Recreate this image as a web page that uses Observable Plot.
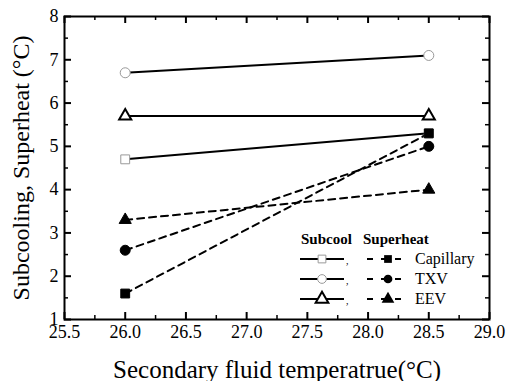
<!DOCTYPE html>
<html><head><meta charset="utf-8">
<script src="https://cdn.jsdelivr.net/npm/d3@7"></script>
<script src="https://cdn.jsdelivr.net/npm/@observablehq/plot@0.6"></script>
<style>
body{margin:0;background:#fff;}
#wrap{position:relative;width:506px;height:381px;}
#legend{position:absolute;left:0;top:0;}
svg, svg text{font-family:"Liberation Serif","DejaVu Serif",serif !important;}
</style>
</head><body><div id="wrap"></div>
<script>
const temps = [26.0, 28.5];
const subcoolCapillary = [4.7, 5.3];
const subcoolTXV = [6.7, 7.1];
const subcoolEEV = [5.7, 5.7];
const superCapillary = [1.6, 5.3];
const superTXV = [2.6, 5.0];
const superEEV = [3.3, 4.0];
const xTicks = [25.5, 26.0, 26.5, 27.0, 27.5, 28.0, 28.5, 29.0];
const xMinor = [25.75, 26.25, 26.75, 27.25, 27.75, 28.25, 28.75];
const yTicks = [1, 2, 3, 4, 5, 6, 7, 8];
const yMinor = [1.5, 2.5, 3.5, 4.5, 5.5, 6.5, 7.5];
const legendNames = ["Capillary", "TXV", "EEV"];
const xTitle = "Secondary fluid temperatrue(\u00B0C)";
const yTitle = "Subcooling, Superheat (\u00B0C)";

const series = [
  {kind: "Subcool", name: "Capillary", vals: subcoolCapillary, symbol: "square", fill: "white", mstroke: "#999"},
  {kind: "Subcool", name: "TXV", vals: subcoolTXV, symbol: "circle", fill: "white", mstroke: "#999"},
  {kind: "Subcool", name: "EEV", vals: subcoolEEV, symbol: "triangle", fill: "white", mstroke: "black"},
  {kind: "Superheat", name: "Capillary", vals: superCapillary, symbol: "square", fill: "black", mstroke: "black"},
  {kind: "Superheat", name: "TXV", vals: superTXV, symbol: "circle", fill: "black", mstroke: "black"},
  {kind: "Superheat", name: "EEV", vals: superEEV, symbol: "triangle", fill: "black", mstroke: "black"}
];
const rows = series.flatMap(s => temps.map((t, i) => ({x: t, y: s.vals[i], s})));

const W = 506, H = 381, mL = 64, mR = 17, mT = 16, mB = 62;
const xDom = [25.5, 29.0], yDom = [1, 8];
const pxY = (H - mT - mB) / (yDom[1] - yDom[0]);
const pxX = (W - mL - mR) / (xDom[1] - xDom[0]);
const majL = 7, minL = 4;

const marks = [
  Plot.frame({stroke: "black", strokeWidth: 2}),
  Plot.ruleX(xTicks, {x: d => d, y1: yDom[0], y2: yDom[0] + majL / pxY, strokeWidth: 2}),
  Plot.ruleX(xMinor, {x: d => d, y1: yDom[0], y2: yDom[0] + minL / pxY, strokeWidth: 1.5}),
  Plot.ruleX(xTicks, {x: d => d, y1: yDom[1], y2: yDom[1] - majL / pxY, strokeWidth: 2}),
  Plot.ruleX(xMinor, {x: d => d, y1: yDom[1], y2: yDom[1] - minL / pxY, strokeWidth: 1.5}),
  Plot.ruleY(yTicks, {y: d => d, x1: xDom[0], x2: xDom[0] + majL / pxX, strokeWidth: 2}),
  Plot.ruleY(yMinor, {y: d => d, x1: xDom[0], x2: xDom[0] + minL / pxX, strokeWidth: 1.5}),
  Plot.ruleY(yTicks, {y: d => d, x1: xDom[1], x2: xDom[1] - majL / pxX, strokeWidth: 2}),
  Plot.ruleY(yMinor, {y: d => d, x1: xDom[1], x2: xDom[1] - minL / pxX, strokeWidth: 1.5}),
];
for (const s of series) {
  const d = rows.filter(r => r.s === s);
  marks.push(Plot.line(d, {x: "x", y: "y", stroke: "black", strokeWidth: 2,
    strokeDasharray: s.kind === "Superheat" ? "7,5" : null}));
}
for (const s of series) {
  const d = rows.filter(r => r.s === s);
  marks.push(Plot.dot(d, {x: "x", y: "y", symbol: () => s.symbol, r: s.symbol === "triangle" ? 4.5 : 5,
    fill: s.fill, stroke: s.mstroke, strokeWidth: s.kind === "Subcool" ? (s.symbol === "triangle" ? 2 : 1) : 1}));
}
marks.push(Plot.text([xTitle], {text: d => d, frameAnchor: "bottom", dy: 50, fontSize: 25, lineAnchor: "middle", textAnchor: "middle"}));
marks.push(Plot.text([yTitle], {text: d => d, frameAnchor: "left", dx: -43, rotate: -90, fontSize: 24, lineAnchor: "middle", textAnchor: "middle"}));

const chart = Plot.plot({
  width: W, height: H,
  marginLeft: mL, marginRight: mR, marginTop: mT, marginBottom: mB,
  style: {fontSize: "18px", color: "black", background: "white"},
  x: {domain: xDom, ticks: xTicks, tickFormat: d => d.toFixed(1), tickSize: 0, tickPadding: 6, label: null},
  y: {domain: yDom, ticks: yTicks, tickFormat: d => String(d), tickSize: 0, tickPadding: 6, label: null},
  marks
});
document.getElementById("wrap").appendChild(chart);

const leg = d3.select("#wrap").append("svg").attr("id", "legend").attr("width", W).attr("height", H);
leg.append("text").attr("x", 301).attr("y", 244).attr("font-size", 15).attr("font-weight", "bold").text("Subcool");
leg.append("text").attr("x", 363).attr("y", 244).attr("font-size", 15).attr("font-weight", "bold").text("Superheat");
const symMap = {square: d3.symbolSquare, circle: d3.symbolCircle, triangle: d3.symbolTriangle};
legendNames.forEach((name, i) => {
  const y = 259 + i * 20;
  const sub = series.find(s => s.kind === "Subcool" && s.name === name);
  const sup = series.find(s => s.kind === "Superheat" && s.name === name);
  leg.append("line").attr("x1", 300).attr("x2", 344).attr("y1", y).attr("y2", y).attr("stroke", "black").attr("stroke-width", 2);
  leg.append("path").attr("d", d3.symbol(symMap[sub.symbol], sub.symbol === "triangle" ? 70 : 60)())
    .attr("transform", `translate(322,${y})`).attr("fill", "white").attr("stroke", sub.mstroke)
    .attr("stroke-width", sub.symbol === "triangle" ? 2 : 1);
  leg.append("text").attr("x", 346).attr("y", y + 5).attr("font-size", 10).text(",");
  leg.append("line").attr("x1", 367).attr("x2", 409).attr("y1", y).attr("y2", y).attr("stroke", "black")
    .attr("stroke-width", 2).attr("stroke-dasharray", "6,8");
  leg.append("path").attr("d", d3.symbol(symMap[sup.symbol], sup.symbol === "triangle" ? 70 : 60)())
    .attr("transform", `translate(388,${y})`).attr("fill", "black");
  leg.append("text").attr("x", 415).attr("y", y + 5).attr("font-size", 16).text(name);
});
</script></body></html>
